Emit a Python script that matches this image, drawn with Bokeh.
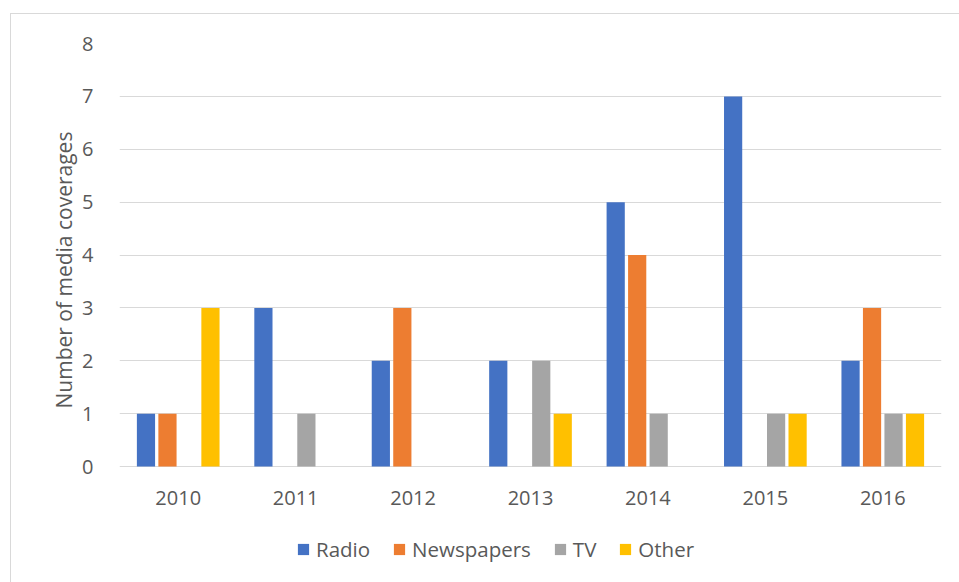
from bokeh.plotting import figure
from bokeh.models import (ColumnDataSource, Legend, LegendItem, FactorRange, Range1d,
                          FixedTicker, InlineStyleSheet, Title)
from bokeh.core.properties import value
from bokeh.transform import dodge
from bokeh.embed import file_html
from bokeh.resources import INLINE

years = ["2010", "2011", "2012", "2013", "2014", "2015", "2016"]
radio = [1, 3, 2, 2, 5, 7, 2]
newspapers = [1, 0, 3, 0, 4, 0, 3]
tv = [0, 1, 0, 2, 1, 1, 1]
other = [3, 0, 0, 1, 0, 1, 1]
y_ticks = [0, 1, 2, 3, 4, 5, 6, 7, 8]

series = ["Radio", "Newspapers", "TV", "Other"]
colors = ["#4472C4", "#ED7D31", "#A5A5A5", "#FFC000"]

src = ColumnDataSource(dict(years=years, Radio=radio, Newspapers=newspapers, TV=tv, Other=other,
                            base=[0] * len(years)))

FONT = "Open Sans"
TXT = "#595959"

# frame: left 119, right 941, top 43 (y=8), y=0 at 466, bottom 575
p = figure(width=959, height=582, x_range=FactorRange(*years), y_range=Range1d(-2.061, 8),
           output_backend="svg", toolbar_location=None, x_axis_location=None,
           min_border_left=119, min_border_right=18, min_border_top=43, min_border_bottom=7)
p.outline_line_color = None
p.stylesheets = [InlineStyleSheet(css=":host::after{content:'';position:absolute;left:10px;top:13px;"
                                      "width:960px;height:580px;border:1.5px solid #D9D9D9;"
                                      "pointer-events:none;box-sizing:border-box;}")]

step = 0.183
bw = 0.155
renderers = []
for i, (s, c) in enumerate(zip(series, colors)):
    off = (i - 1.5) * step
    r = p.vbar(x=dodge("years", off, range=p.x_range), top=s, width=bw, source=src,
               fill_color=c, line_color=None)
    renderers.append(r)

# category labels under the baseline
p.text(x="years", y="base", text="years", source=src, y_offset=31,
       text_align="center", text_baseline="middle", text_font=value(FONT),
       text_font_size="20px", text_color=TXT)

p.yaxis.ticker = FixedTicker(ticks=y_ticks)
p.ygrid.grid_line_color = "#D9D9D9"
p.ygrid.grid_line_width = 1
p.xgrid.grid_line_color = None

ax = p.yaxis[0]
ax.axis_line_color = None
ax.major_tick_line_color = None
ax.minor_tick_line_color = None
ax.major_label_text_font = FONT
ax.major_label_text_font_size = "20px"
ax.major_label_text_color = TXT
ax.major_label_standoff = 20

ytitle = Title(text="Number of media coverages", align="left", offset=167,
               text_font=FONT, text_font_size="21px", text_font_style="normal",
               text_color=TXT, standoff=4)
p.add_layout(ytitle, "left")

legend = Legend(items=[LegendItem(label=s, renderers=[r]) for s, r in zip(series, renderers)],
                orientation="horizontal", location=(177, 12))
legend.border_line_color = None
legend.background_fill_alpha = 0
legend.padding = 0
legend.margin = 0
legend.spacing = 22
legend.glyph_width = 14
legend.glyph_height = 14
legend.label_standoff = 6
legend.label_text_font = FONT
legend.label_text_font_size = "20.5px"
legend.label_text_color = TXT
p.add_layout(legend, "center")

open("out.html", "w").write(file_html(p, INLINE))
